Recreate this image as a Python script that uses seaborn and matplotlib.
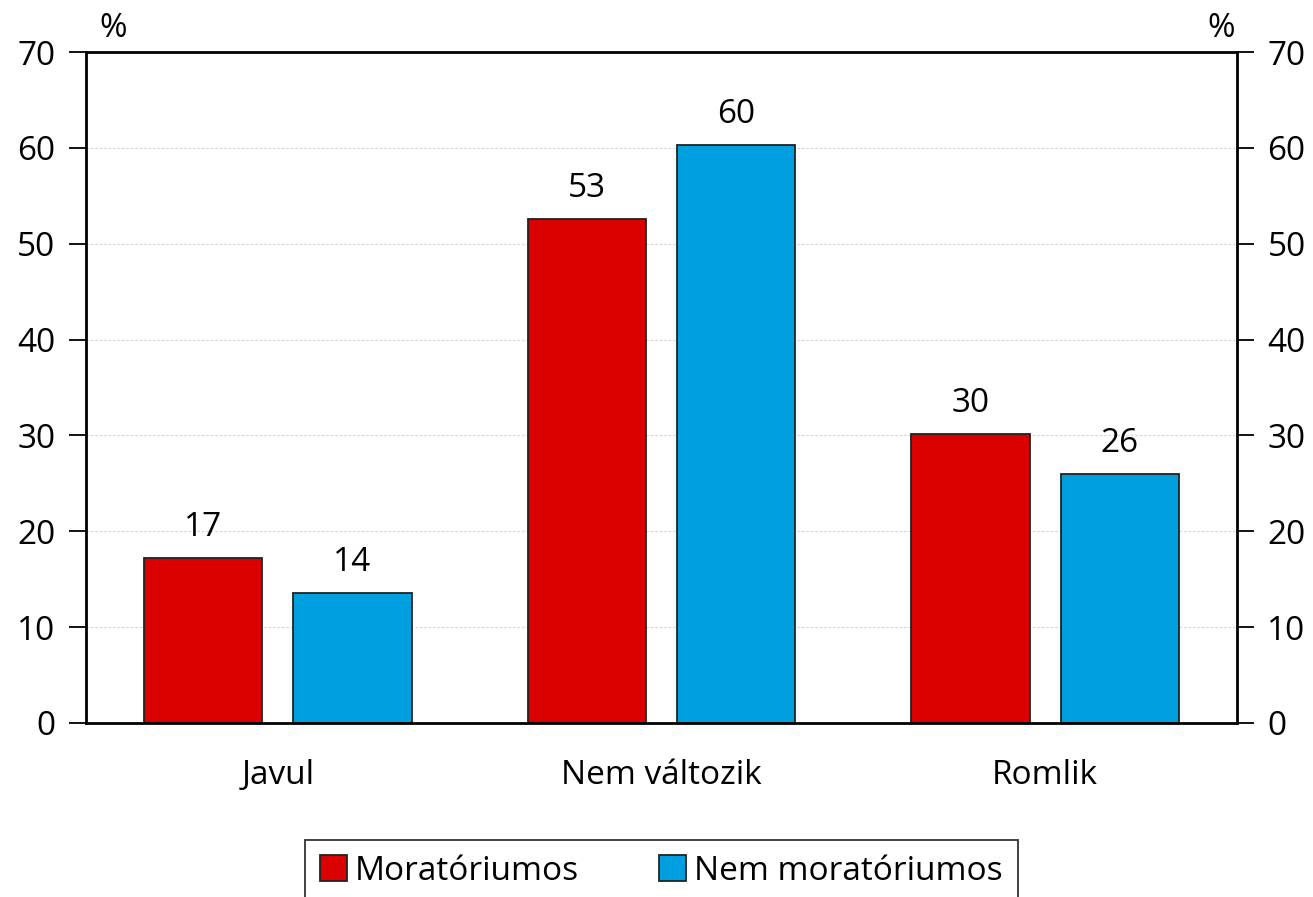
import pandas as pd
import numpy as np
import matplotlib
matplotlib.use("Agg")
import matplotlib.pyplot as plt
import seaborn as sns

categories = ["Javul", "Nem változik", "Romlik"]
series = ["Moratóriumos", "Nem moratóriumos"]
moratoriumos = [17.2, 52.6, 30.2]
nem_moratoriumos = [13.6, 60.3, 26.0]
colors = ["#DA0000", "#009FE0"]

df = pd.DataFrame({
    "cat": categories * 2,
    "series": [series[0]] * 3 + [series[1]] * 3,
    "value": moratoriumos + nem_moratoriumos,
})

sns.set_style("white")
plt.rcParams["font.family"] = ["Open Sans", "DejaVu Sans"]
plt.rcParams["text.color"] = "black"
plt.rcParams["xtick.color"] = "black"
plt.rcParams["ytick.color"] = "black"
plt.rcParams["xtick.labelcolor"] = "black"
plt.rcParams["ytick.labelcolor"] = "black"
FS = 24

fig, ax = plt.subplots(figsize=(13.13, 8.97), dpi=100)
fig.subplots_adjust(left=0.0655, right=0.942, top=0.942, bottom=0.194)

sns.barplot(data=df, x="cat", y="value", hue="series", palette=colors,
            width=0.778, gap=0.208, edgecolor="#222222", linewidth=1.3,
            saturation=1, ax=ax)

for cont in ax.containers:
    ax.bar_label(cont, labels=[f"{v:.0f}" for v in cont.datavalues],
                 padding=10, fontsize=FS, color="black")

ax.set_ylim(0, 70)
ax.set_xlim(-0.5, 2.5)
ax.set_yticks(range(0, 71, 10))
ax.yaxis.grid(True, color="#d0d0d0", linestyle=(0, (2, 2)), linewidth=0.8)
ax.set_axisbelow(True)
ax.set_xlabel("")
ax.set_ylabel("")

# x ticks at category boundaries, labels centered
ax.set_xticks([-0.5, 0.5, 1.5, 2.5])
ax.set_xticklabels([])
ax.set_xticks([0, 1, 2], minor=True)
ax.set_xticklabels(categories, minor=True, fontsize=FS)
ax.tick_params(axis="x", which="major", direction="out", length=12, width=1.3, color="black")
ax.tick_params(axis="x", which="minor", length=0, pad=26)
ax.tick_params(axis="y", direction="out", length=12, width=1.3, labelsize=FS, pad=10, color="black")

for s in ax.spines.values():
    s.set_visible(True)
    s.set_color("black")
    s.set_linewidth(2)

ax2 = ax.twinx()
ax2.set_ylim(0, 70)
ax2.set_yticks(range(0, 71, 10))
ax2.tick_params(axis="y", direction="out", length=12, width=1.3, labelsize=FS, pad=10, color="black")
for s in ax2.spines.values():
    s.set_visible(False)

ax.text(0.012, 1.01, "%", transform=ax.transAxes, fontsize=FS, ha="left", va="bottom")
ax.text(0.9985, 1.01, "%", transform=ax.transAxes, fontsize=FS, ha="right", va="bottom")

handles, labels = ax.get_legend_handles_labels()
leg = ax.legend(handles, labels, loc="upper center", bbox_to_anchor=(0.5, -0.174),
                ncol=2, fontsize=FS, frameon=True, fancybox=False, edgecolor="black",
                handlelength=0.8, handleheight=0.8, handletextpad=0.25, columnspacing=2.4,
                borderpad=0.45, borderaxespad=0)
leg.get_frame().set_linewidth(1.3)
for h in leg.legend_handles:
    h.set_edgecolor("#222222")

fig.savefig("out.png", dpi=100)
